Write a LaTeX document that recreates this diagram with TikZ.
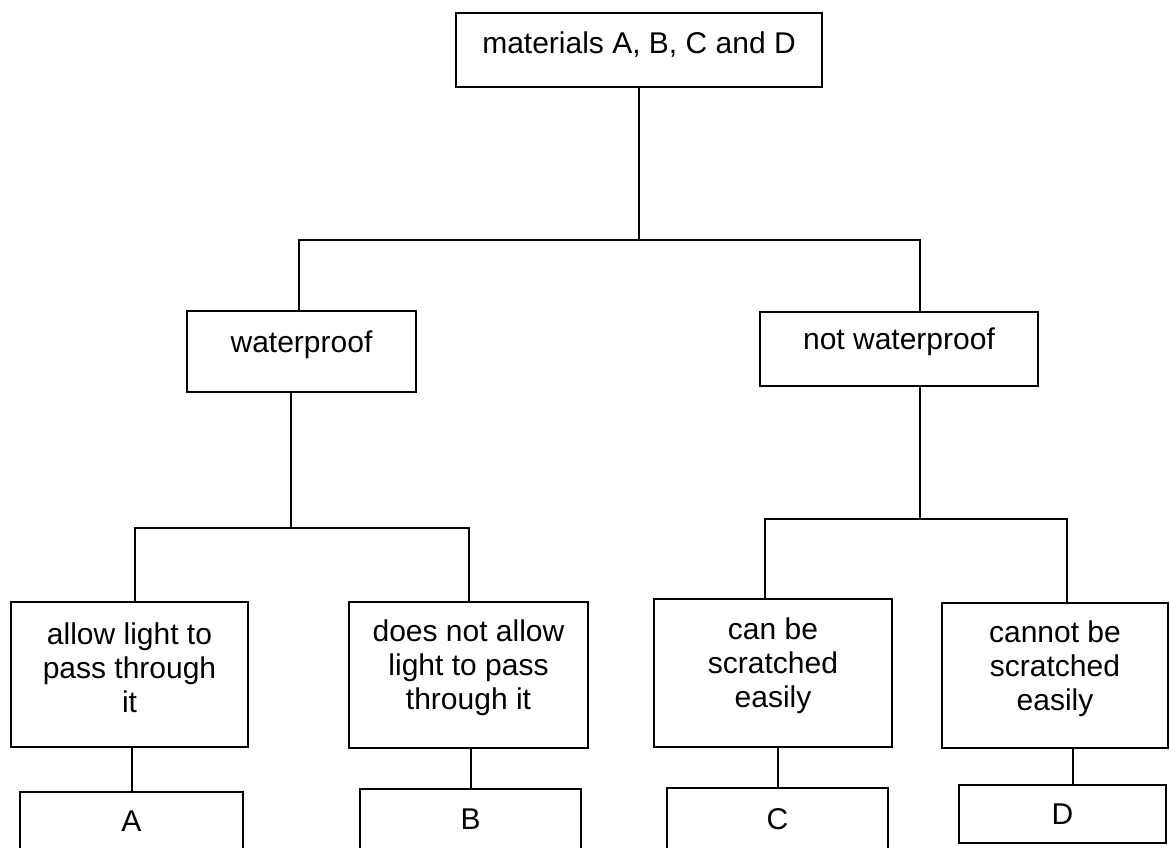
\documentclass[tikz,border=0pt]{standalone}
\usepackage{fontspec}
\setmainfont{Liberation Sans}
\begin{document}
\begin{tikzpicture}[x=1pt,y=-1pt,
  box/.style={draw, line width=2pt, inner sep=0pt},
  txt/.style={font=\fontsize{30}{34}\selectfont, align=center},
  link/.style={line width=2pt}]
  \clip (0,0) rectangle (1170,847);
  % top of the key
  \node[box, minimum width=366pt, minimum height=74pt,
    label={[txt, yshift=5pt]center:{materials A, B, C and D}}] (mat) at (639,50) {};
  % first split
  \node[box, minimum width=229pt, minimum height=81pt,
    label={[txt, yshift=7pt]center:{waterproof}}] (wp) at (301.5,351.5) {};
  \node[box, minimum width=278pt, minimum height=74pt,
    label={[txt, yshift=7pt]center:{not waterproof}}] (nwp) at (899,349) {};
  % second split
  \node[box, minimum width=237pt, minimum height=145pt,
    label={[txt, yshift=7pt]center:{allow light to\\pass through\\it}}] (allow) at (129.5,674.5) {};
  \node[box, minimum width=239pt, minimum height=146pt,
    label={[txt, yshift=7pt]center:{does not allow\\light to pass\\through it}}] (noallow) at (468.5,675) {};
  \node[box, minimum width=238pt, minimum height=148pt,
    label={[txt, yshift=7pt]center:{can be\\scratched\\easily}}] (scr) at (773,673) {};
  \node[box, minimum width=226pt, minimum height=145pt,
    label={[txt, yshift=7pt]center:{cannot be\\scratched\\easily}}] (noscr) at (1055,675.5) {};
  % materials
  \node[box, minimum width=223pt, minimum height=58pt, label={[txt]center:A}] (A) at (131.5,821) {};
  \node[box, minimum width=221pt, minimum height=61pt, label={[txt]center:B}] (B) at (470.5,819.5) {};
  \node[box, minimum width=221pt, minimum height=62pt, label={[txt]center:C}] (C) at (777.5,819) {};
  \node[box, minimum width=207pt, minimum height=58pt, label={[txt]center:D}] (D) at (1062.5,814) {};

  \coordinate (j1) at (0,240);
  \coordinate (j2) at (0,528);
  \coordinate (j3) at (0,519);
  \coordinate (wpT) at ([xshift=-3pt]wp.north);
  \coordinate (wpB) at ([xshift=-11pt]wp.south);
  \coordinate (nwpT) at ([xshift=21pt]nwp.north);
  \coordinate (nwpB) at ([xshift=21pt]nwp.south);
  \coordinate (allowT) at ([xshift=5pt]allow.north);
  \coordinate (scrT) at ([xshift=-8pt]scr.north);
  \coordinate (noscrT) at ([xshift=12pt]noscr.north);
  \coordinate (DT) at ([xshift=10pt]D.north);

  \draw[link] (mat.south) -- (mat.south |- j1);
  \draw[link] (wpT) |- (j1 -| nwpT) -- (nwpT);
  \draw[link] (wpB) -- (wpB |- j2);
  \draw[link] (allowT) |- (j2 -| noallow.north) -- (noallow.north);
  \draw[link] (nwpB) -- (nwpB |- j3);
  \draw[link] (scrT) |- (j3 -| noscrT) -- (noscrT);
  \draw[link] (A.north |- allow.south) -- (A.north);
  \draw[link] (B.north |- noallow.south) -- (B.north);
  \draw[link] (C.north |- scr.south) -- (C.north);
  \draw[link] (DT |- noscr.south) -- (DT);
\end{tikzpicture}
\end{document}
